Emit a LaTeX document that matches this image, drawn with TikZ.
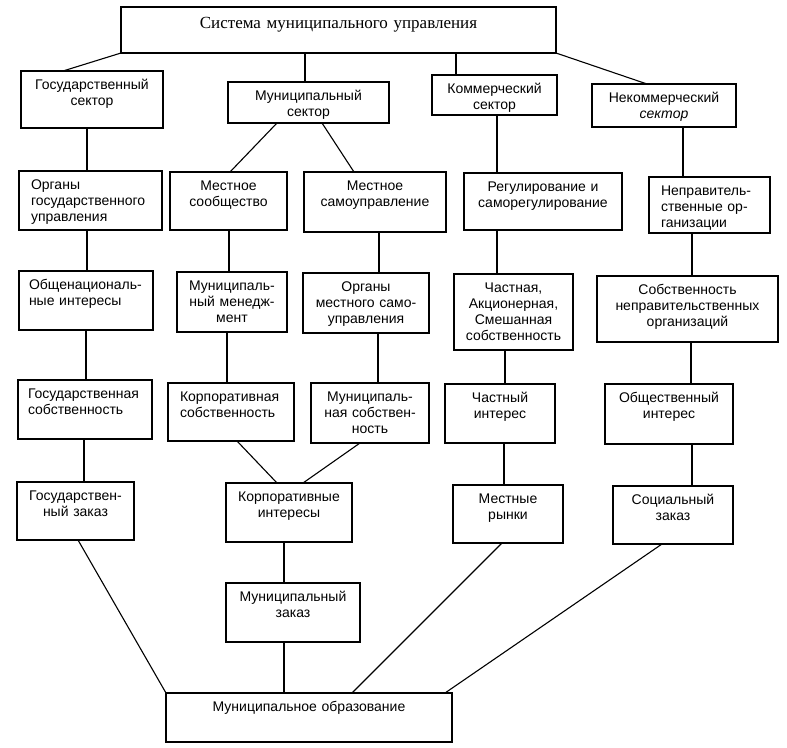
\documentclass[tikz,border=0pt]{standalone}
\usepackage{fontspec}
\setmainfont{Liberation Serif}
\setsansfont{Liberation Sans}

\begin{document}
\begin{tikzpicture}[
  x=1pt, y=-1pt, line width=1.1pt,
  box/.style={draw, anchor=north west, outer sep=0pt, inner xsep=4pt,
              inner ysep=0pt, align=center, text height=18.5pt,
              font=\sffamily\fontsize{14}{16}\selectfont},
  lbox/.style={box, align=left, inner xsep=12pt},
  head/.style={box, text height=21pt, font=\fontsize{17}{20}\selectfont}
]
  \useasboundingbox (0,0) rectangle (787,747);

  % top
  \node[head, text width=427pt, text depth=25pt] (sys) at (121,7)
    {Система муниципального управления};

  % sectors
  \node[box, text width=134pt, text depth=38.5pt] (gs)  at (21,71)  {Государственный\\сектор};
  \node[box, text width=153pt, text depth=22.5pt] (ms)  at (228,82) {Муниципальный\\сектор};
  \node[box, text width=117pt, text depth=21.5pt] (ks)  at (432,75) {Коммерческий\\сектор};
  \node[box, text width=136pt, text depth=24.5pt] (nks) at (592,84) {Некоммерческий\\\textit{сектор}};

  % second row
  \node[lbox, text width=119pt, text depth=40.5pt] (og)  at (19,171)  {Органы\\государственного\\управления};
  \node[box,  text width=109pt, text depth=39.5pt] (lc)  at (170,172) {Местное\\сообщество};
  \node[box,  text width=134pt, text depth=41.5pt] (lsu) at (304,172) {Местное\\самоуправление};
  \node[box,  text width=150pt, text depth=38.5pt] (reg) at (464,173) {Регулирование и\\саморегулирование};
  \node[lbox, text width=97pt,  text depth=37.5pt] (npo) at (649,177) {Неправитель-\\ственные ор-\\ганизации};

  % third row
  \node[lbox, inner xsep=10pt, text width=114pt, text depth=40.5pt] (oni) at (19,271) {Общенациональ-\\ные интересы};
  \node[box,  text width=102pt, text depth=41.5pt] (mm)   at (177,272) {Муниципаль-\\ный менедж-\\мент};
  \node[box,  text width=118pt, text depth=41.5pt] (oms)  at (303,273) {Органы\\местного само-\\управления};
  \node[box,  text width=111pt, text depth=57.5pt] (chs)  at (454,274) {Частная,\\Акционерная,\\Смешанная\\собственность};
  \node[box,  text width=173pt, text depth=47.5pt] (snpo) at (597,276) {Собственность\\неправительственных\\организаций};

  % fourth row
  \node[lbox, inner xsep=10pt, text width=114pt, text depth=40.5pt] (gso) at (18,380) {Государственная\\собственность};
  \node[lbox, text width=102pt, text depth=39.5pt] (kso) at (168,383) {Корпоративная\\собственность};
  \node[box,  text width=110pt, text depth=41.5pt] (mso) at (311,383) {Муниципаль-\\ная собствен-\\ность};
  \node[box,  text width=102pt, text depth=40.5pt] (chi) at (445,384) {Частный\\интерес};
  \node[box,  text width=120pt, text depth=41.5pt] (obi) at (605,384) {Общественный\\интерес};

  % fifth row
  \node[box, text width=109pt, text depth=39.5pt] (gz) at (17,482)  {Государствен-\\ный заказ};
  \node[box, text width=118pt, text depth=40.5pt] (ki) at (226,483) {Корпоративные\\интересы};
  \node[box, text width=102pt, text depth=39.5pt] (mr) at (453,485) {Местные\\рынки};
  \node[box, text width=112pt, text depth=39.5pt] (sz) at (613,486) {Социальный\\заказ};

  \node[box, text width=126pt, text depth=40.5pt] (mz) at (226,583) {Муниципальный\\заказ};
  \node[box, text width=278pt, text depth=30.5pt] (mo) at (166,693) {Муниципальное образование};

  % links from the top
  \draw (sys.south west) -- ([xshift=42pt]gs.north west);
  \draw ([xshift=77pt]ms.north west) -- ([xshift=77pt]ms.north west |- sys.south);
  \draw ([xshift=24pt]ks.north west) -- ([xshift=24pt]ks.north west |- sys.south);
  \draw (sys.south east) -- ([xshift=55pt]nks.north west);

  % columns
  \draw ([xshift=66pt]gs.south west) -- ([xshift=66pt]gs.south west |- og.north);
  \draw ([xshift=49pt]ms.south west) -- ([xshift=60pt]lc.north west);
  \draw ([xshift=94pt]ms.south west) -- ([xshift=50pt]lsu.north west);
  \draw ([xshift=65pt]ks.south west) -- ([xshift=65pt]ks.south west |- reg.north);
  \draw ([xshift=91pt]nks.south west) -- ([xshift=91pt]nks.south west |- npo.north);

  \draw ([xshift=68pt]og.south west) -- ([xshift=68pt]og.south west |- oni.north);
  \draw ([xshift=59pt]lc.south west) -- ([xshift=59pt]lc.south west |- mm.north);
  \draw ([xshift=75pt]lsu.south west) -- ([xshift=75pt]lsu.south west |- oms.north);
  \draw ([xshift=33pt]reg.south west) -- ([xshift=33pt]reg.south west |- chs.north);
  \draw ([xshift=43pt]npo.south west) -- ([xshift=43pt]npo.south west |- snpo.north);

  \draw ([xshift=67pt]oni.south west) -- ([xshift=67pt]oni.south west |- gso.north);
  \draw ([xshift=50pt]mm.south west) -- ([xshift=50pt]mm.south west |- kso.north);
  \draw ([xshift=75pt]oms.south west) -- ([xshift=75pt]oms.south west |- mso.north);
  \draw ([xshift=51pt]chs.south west) -- ([xshift=51pt]chs.south west |- chi.north);
  \draw ([xshift=94pt]snpo.south west) -- ([xshift=94pt]snpo.south west |- obi.north);

  \draw ([xshift=66pt]gso.south west) -- ([xshift=66pt]gso.south west |- gz.north);
  \draw ([xshift=69pt]kso.south west) -- ([xshift=51pt]ki.north west);
  \draw ([xshift=49pt]mso.south west) -- ([xshift=77pt]ki.north west);
  \draw ([xshift=59pt]chi.south west) -- ([xshift=59pt]chi.south west |- mr.north);
  \draw ([xshift=87pt]obi.south west) -- ([xshift=87pt]obi.south west |- sz.north);
  \draw ([xshift=58pt]ki.south west) -- ([xshift=58pt]ki.south west |- mz.north);

  % into the bottom box
  \draw ([xshift=61pt]gz.south west) -- (mo.north west);
  \draw ([xshift=58pt]mz.south west) -- ([xshift=58pt]mz.south west |- mo.north);
  \draw ([xshift=49pt]mr.south west) -- ([xshift=186pt]mo.north west);
  \draw ([xshift=49pt]sz.south west) -- ([xshift=279pt]mo.north west);
\end{tikzpicture}
\end{document}
